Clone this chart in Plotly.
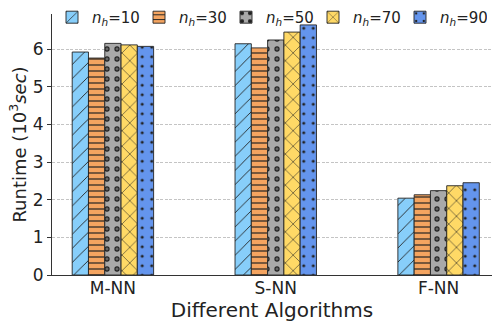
import plotly.graph_objects as go

algorithms = ["M-NN", "S-NN", "F-NN"]
series_names = ["10", "30", "50", "70", "90"]
runtime_n10 = [5.92, 6.14, 2.04]
runtime_n30 = [5.76, 6.03, 2.13]
runtime_n50 = [6.15, 6.24, 2.24]
runtime_n70 = [6.11, 6.45, 2.37]
runtime_n90 = [6.07, 6.64, 2.45]
y_ticks = [0, 1, 2, 3, 4, 5, 6]

values = [runtime_n10, runtime_n30, runtime_n50, runtime_n70, runtime_n90]
colors = ["#87CEFA", "#F4A460", "#A9A9A9", "#FFD966", "#6495ED"]
shapes = ["/", "-", ".", "x", "."]
sizes = [10, 6, 10, 11, 9.5]
solid = [0.09, 0.2, 0.22, 0.1, 0.08]

FONT = "DejaVu Sans"
fig = go.Figure()
for i, (nm, v) in enumerate(zip(series_names, values)):
    fig.add_trace(go.Bar(
        x=algorithms, y=v, name="<i>n</i><sub><i>h</i></sub>=" + nm,
        offsetgroup=str(i),
        marker=dict(color=colors[i], line=dict(color="#222", width=0.9),
                    pattern=dict(shape=shapes[i], fgcolor="#222", bgcolor=colors[i],
                                 size=sizes[i], solidity=solid[i], fillmode="replace")),
    ))
    if i == 2:
        # inner part of ring markers
        fig.add_trace(go.Bar(
            x=algorithms, y=v, showlegend=False, hoverinfo="skip",
            offsetgroup=str(i),
            marker=dict(color="rgba(0,0,0,0)", line=dict(width=0),
                        pattern=dict(shape=".", fgcolor=colors[i], bgcolor="rgba(0,0,0,0)",
                                     size=sizes[i], solidity=0.07, fillmode="overlay")),
        ))

fig.update_layout(
    width=492, height=322, autosize=False,
    margin=dict(l=52, r=0, t=14, b=47),
    paper_bgcolor="white", plot_bgcolor="white",
    barmode="group", bargap=0.5, bargroupgap=0,
    font=dict(family=FONT, size=15, color="#222"),
    legend=dict(orientation="h", x=0.0, y=1.05, xanchor="left", yanchor="top",
                bgcolor="rgba(0,0,0,0)", font=dict(size=15), itemwidth=30,
                entrywidth=42, tracegroupgap=0),
    xaxis=dict(range=[-0.374, 2.328], showline=True, linecolor="#333", linewidth=1,
               ticks="", showgrid=False,
               tickfont=dict(size=17), ticklabelstandoff=-2,
               title=dict(text="Different Algorithms", font=dict(size=20), standoff=0)),
    yaxis=dict(range=[0, 6.93], tickvals=y_ticks, showline=True, linecolor="#333",
               linewidth=1, ticks="outside", ticklen=4, tickcolor="#333",
               showgrid=True, gridcolor="#c4c4c4", gridwidth=0.7, griddash="3px,1.5px",
               zeroline=False, tickfont=dict(size=17),
               title=dict(text="Runtime (10<sup>3</sup><i>sec</i>)", font=dict(size=18),
                          standoff=1)),
)
fig.write_html("out.html")
